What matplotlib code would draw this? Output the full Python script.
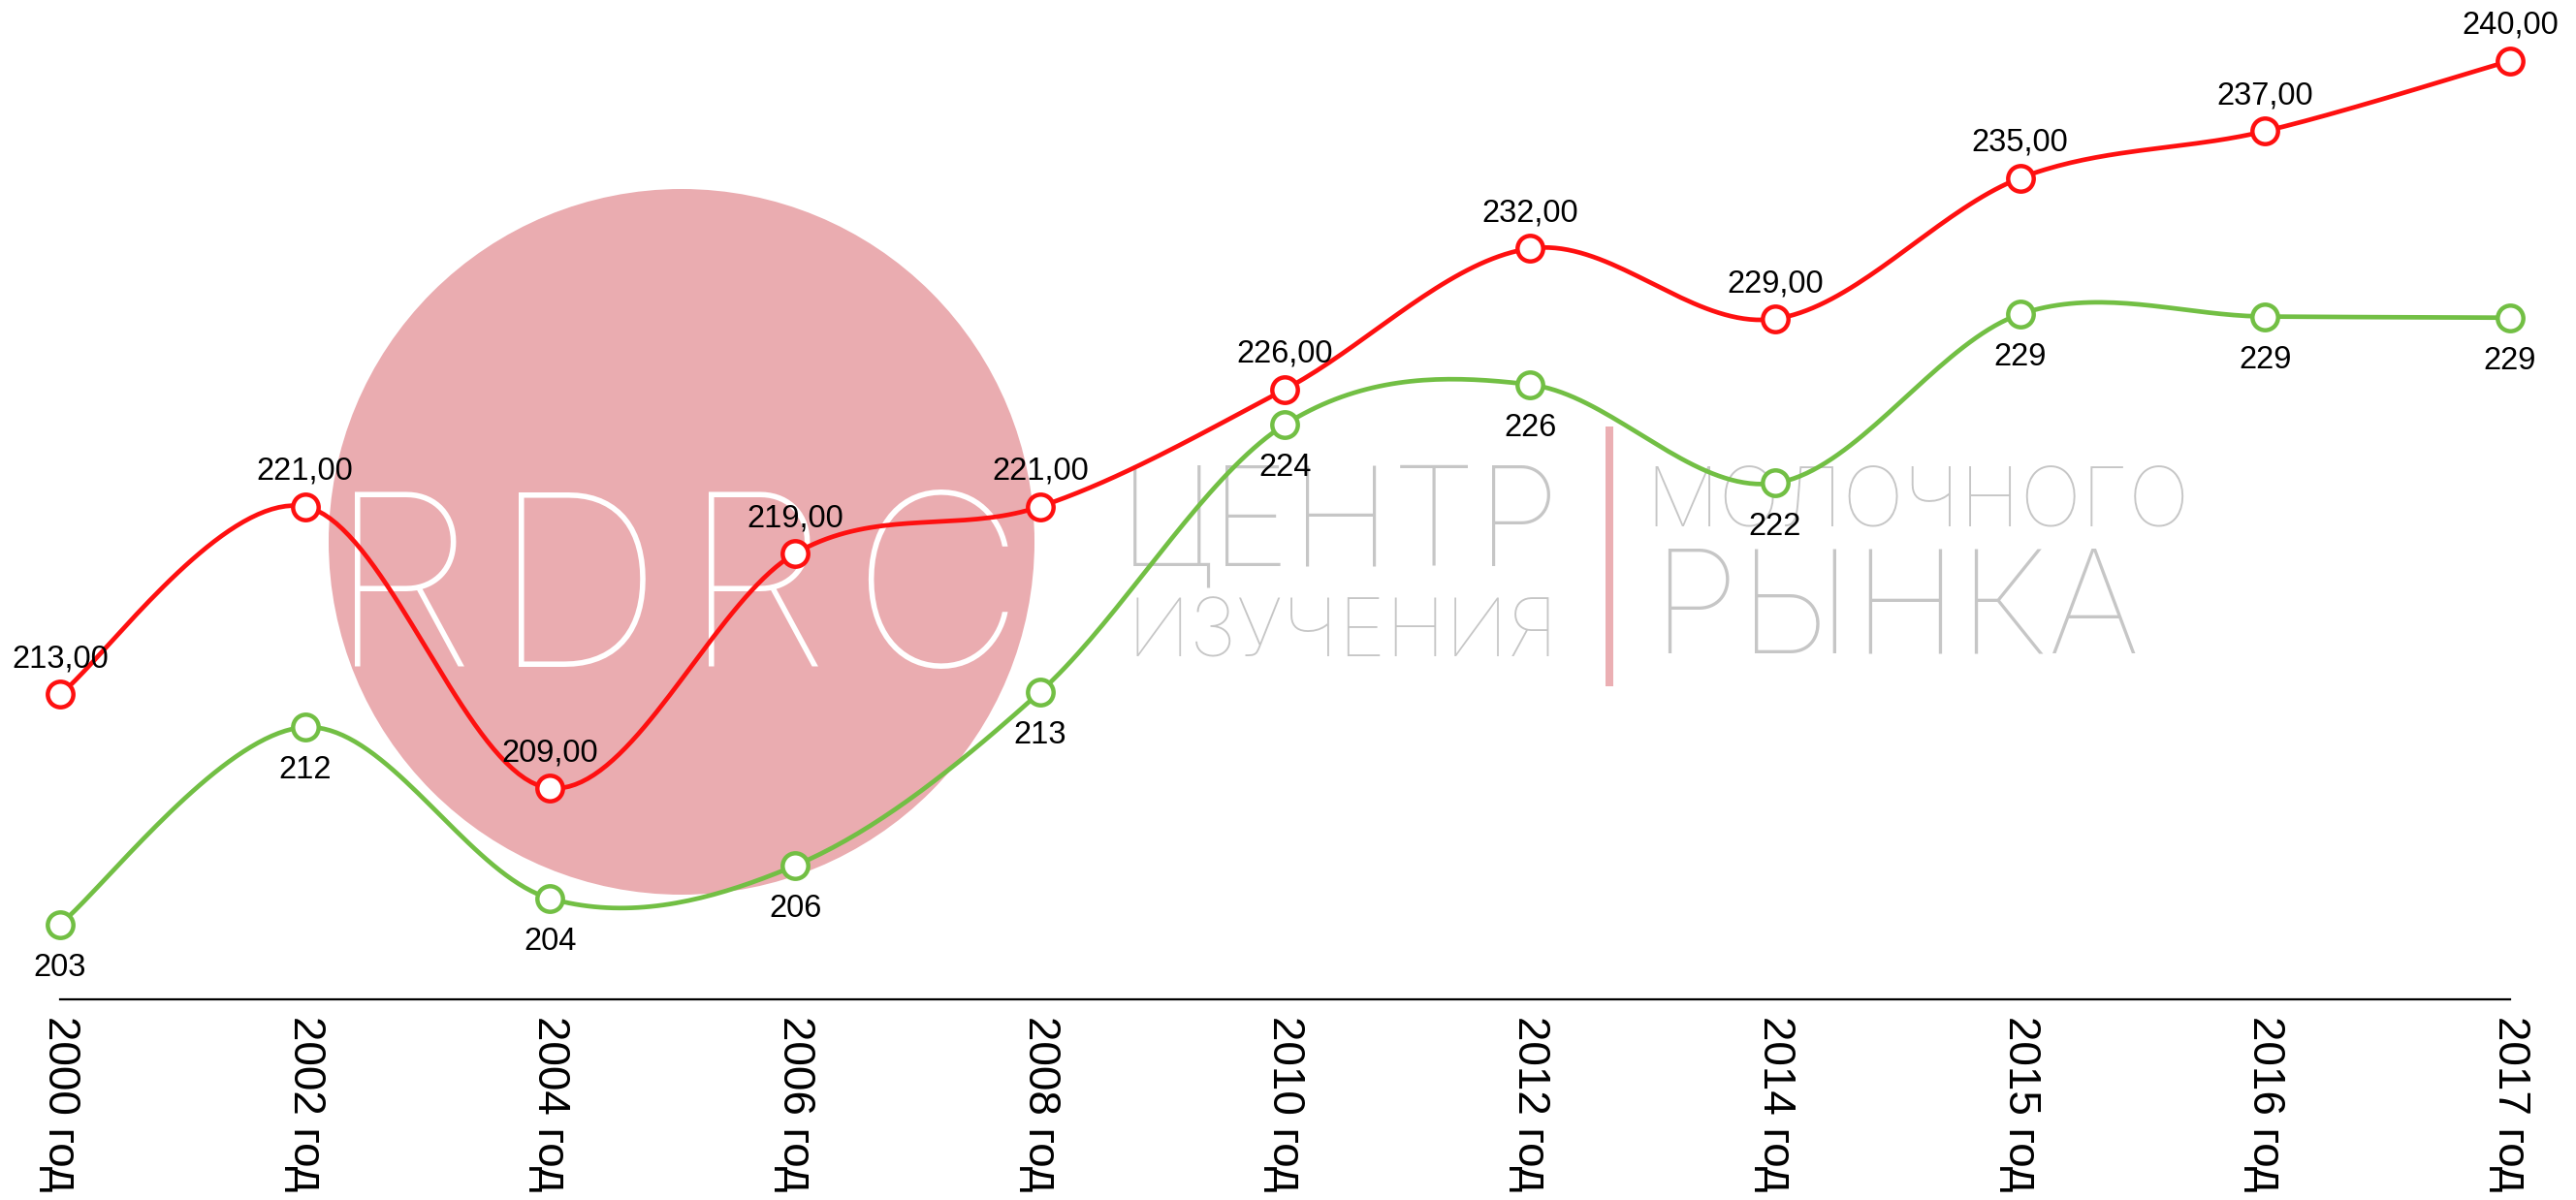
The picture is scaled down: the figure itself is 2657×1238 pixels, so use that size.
import numpy as np
import matplotlib
matplotlib.use("Agg")
from matplotlib import pyplot as plt
from matplotlib import font_manager as fm
from matplotlib.patches import Circle, Rectangle

years = ["2000 год", "2002 год", "2004 год", "2006 год", "2008 год", "2010 год",
         "2012 год", "2014 год", "2015 год", "2016 год", "2017 год"]
red_vals = [213, 221, 209, 219, 221, 226, 232, 229, 235, 237, 240]
green_vals = [203.2, 211.6, 204.3, 205.7, 213.1, 224.5, 226.2, 222.0, 229.2, 229.1, 229.05]

RED = "#fe1010"
GREEN = "#72bf44"
W, H = 2657, 1238

plt.rcParams['font.family'] = ['Liberation Sans', 'DejaVu Sans']


def smooth(y, n=40):
    # catmull-rom style bezier through the points, like a "smoothed line" chart
    p = np.column_stack([np.arange(len(y)), np.asarray(y, float)])
    out = []
    t = np.linspace(0, 1, n)[:, None]
    last = len(p) - 1
    for i in range(last):
        p0, p1, p2, p3 = p[max(i - 1, 0)], p[i], p[i + 1], p[min(i + 2, last)]
        c1 = p1 + (p2 - p0) / 6
        c2 = p2 - (p3 - p1) / 6
        seg = (1 - t) ** 3 * p1 + 3 * (1 - t) ** 2 * t * c1 + 3 * (1 - t) * t ** 2 * c2 + t ** 3 * p2
        out.append(seg if i == 0 else seg[1:])
    out = np.vstack(out)
    return out[:, 0], out[:, 1]


# lightest cyrillic-capable font for the logo
def weight_num(w):
    if isinstance(w, (int, float)):
        return w
    return fm.weight_dict.get(w, 400)

cands = [f for f in fm.fontManager.ttflist
         if f.name in ('Roboto', 'Lato', 'Open Sans', 'Inter', 'Noto Sans') and f.style == 'normal']
if cands:
    thin = min(cands, key=lambda f: weight_num(f.weight))
    logo_fp = fm.FontProperties(fname=thin.fname)
else:
    logo_fp = fm.FontProperties(family='DejaVu Sans', weight='light')

fig = plt.figure(figsize=(W / 100, H / 100), dpi=100)
renderer = fig.canvas.get_renderer()

# background / watermark layer in pixel coordinates
bg = fig.add_axes([0, 0, 1, 1], zorder=0)
bg.set_xlim(0, W)
bg.set_ylim(H, 0)
bg.axis('off')


def measure(s):
    t = bg.text(0, 0, s, fontproperties=logo_fp, fontsize=100)
    bb = t.get_window_extent(renderer)
    t.remove()
    return bb.width, bb.height

cap_ratio = measure("H")[1] / 100.0

bg.add_patch(Circle((703, 559), 364, color="#eaacb0", lw=0))

# RDRC letters, fitted to cap height
rdrc_size = 230 / cap_ratio
for ch, x0 in zip("RDRC", [338, 507, 703, 877]):
    bg.text(x0, 688, ch, fontproperties=logo_fp, fontsize=rdrc_size,
            color="white", ha='left', va='baseline')

bg.add_patch(Rectangle((1656, 440), 8, 268, color="#ebafb3", lw=0))

logo_words = [("ЦЕНТР", 1153, 583, 457), ("ИЗУЧЕНИЯ", 1162, 677, 445),
              ("МОЛОЧНОГО", 1697, 543, 561), ("РЫНКА", 1703, 673, 504)]
for s, x0, base, width in logo_words:
    w100 = measure(s)[0]
    bg.text(x0, base, s, fontproperties=logo_fp, fontsize=100 * width / w100,
            color="#c6c6c6", ha='left', va='baseline')

# main chart
ax = fig.add_axes([0, 207 / H, 1, 1031 / H], zorder=1)
ax.patch.set_alpha(0)
ax.set_xlim(-0.245, 10.269)
ax.set_ylim(200, 242.59)

x = np.arange(len(years))
for vals, col in [(green_vals, GREEN), (red_vals, RED)]:
    sx, sy = smooth(vals)
    ax.plot(sx, sy, color=col, lw=3.4, solid_capstyle='round', zorder=3)
    ax.plot(x, vals, 'o', ms=19, mfc='white', mec=col, mew=3.2, zorder=4)

for i, v in enumerate(red_vals):
    ax.annotate(f"{v:.2f}".replace('.', ','), (i, v), xytext=(0, 20), textcoords='offset points',
                ha='center', va='baseline', fontsize=23.5, zorder=5)
for i, v in enumerate(green_vals):
    ax.annotate(f"{v:.0f}", (i, v), xytext=(0, -21), textcoords='offset points',
                ha='center', va='top', fontsize=23.5, zorder=5)

for s in ['top', 'left', 'right']:
    ax.spines[s].set_visible(False)
ax.spines['bottom'].set_bounds(0, 10)
ax.spines['bottom'].set_linewidth(1.6)
ax.set_yticks([])
ax.set_xticks(x, years, rotation=270, fontsize=33)
ax.tick_params(axis='x', length=0, pad=12)

fig.savefig("out.png", dpi=100)
